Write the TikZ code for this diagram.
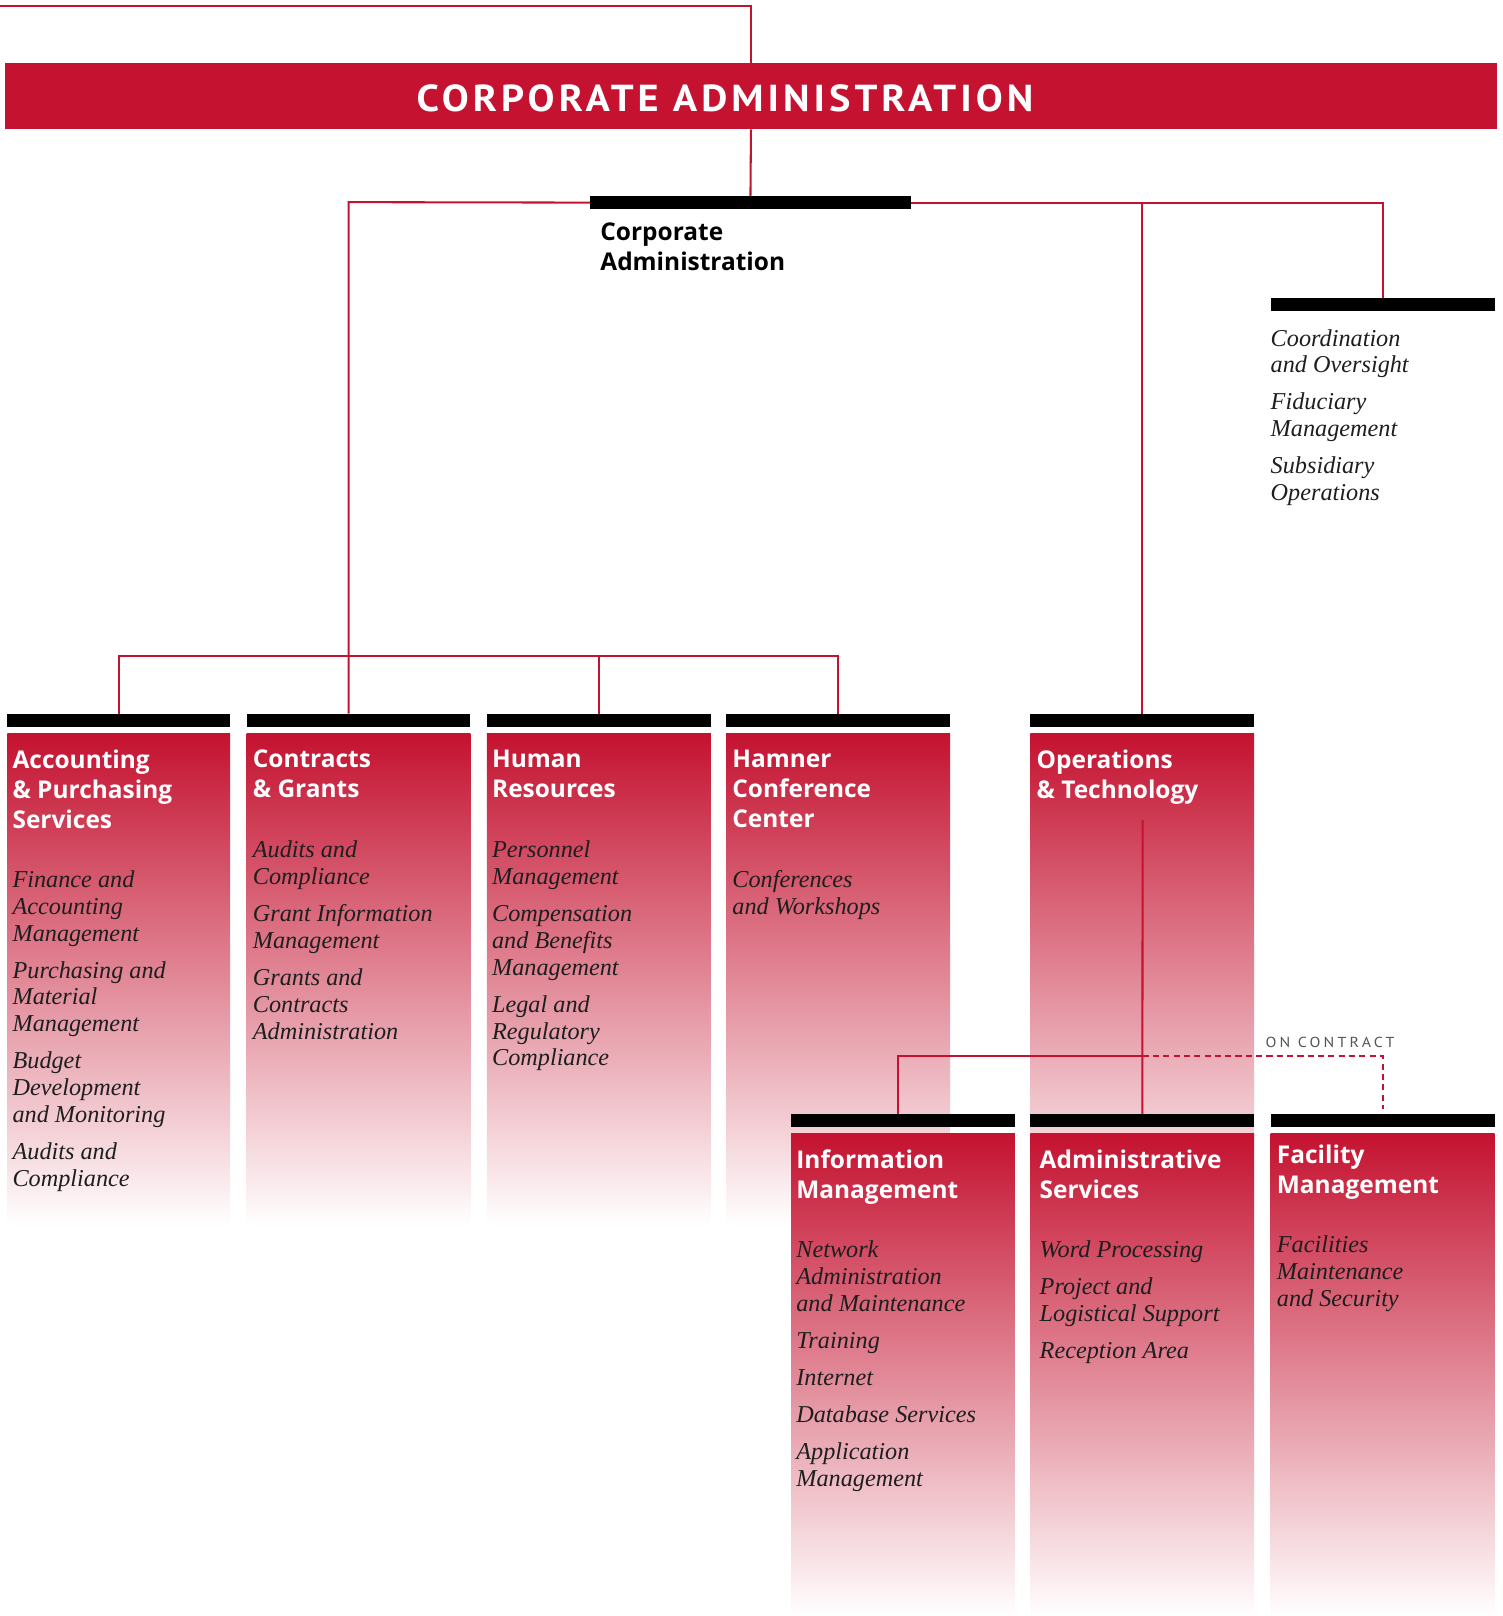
\documentclass[tikz,border=0pt]{standalone}
\usepackage{fontspec}
\usepackage{graphicx}
\setmainfont{Liberation Serif}
\newfontfamily\hdfont{Open Sans}
\newfontfamily\banfont[LetterSpace=10]{PT Sans}
\newfontfamily\smallcapsfont[LetterSpace=20]{PT Sans}
\newfontfamily\itemfont{Liberation Serif}
\definecolor{crim}{HTML}{C41230}
\definecolor{itemcol}{HTML}{1E1E1E}
\definecolor{contractgray}{HTML}{555555}
\begin{document}
\begin{tikzpicture}[x=1pt, y=-1pt,
  link/.style={draw=crim, line width=2pt},
  dashlink/.style={draw=crim, line width=2pt, dash pattern=on 6pt off 4pt},
  barnode/.style={fill=black, inner sep=0pt, minimum height=12.5pt, minimum width=217pt, anchor=north west},
  colbox/.style={top color=crim, bottom color=white, inner sep=0pt, minimum width=217pt, anchor=north west},
  headtext/.style={font=\hdfont\bfseries\fontsize{23.7}{29}\selectfont, text=white, align=left, anchor=north west, inner sep=0pt},
  itemtext/.style={font=\itemfont\itshape\fontsize{23.5}{26}\selectfont, text=itemcol, align=left, anchor=north west, inner sep=0pt}]
\useasboundingbox (0,0) rectangle (1457,1567);

% banner
\node[fill=crim, inner sep=0pt, minimum width=1446pt, minimum height=64pt, anchor=north west] (banner) at (5,61) {};
\node[inner sep=0pt, text=white] (bannerText) at (703,95) {\resizebox{598pt}{26pt}{\banfont\bfseries CORPORATE ADMINISTRATION}};

% corporate administration bar
\node[barnode, minimum width=311pt] (caBar) at (572,190) {};
\node[headtext, text=black] (caText) at (582,216) {Corporate\\Administration};

% coordination bar
\node[barnode] (coBar) at (1232,289) {};
\node[itemtext] (coItems) at (1232,319) {Coordination\\and Oversight\\[10pt]Fiduciary\\Management\\[10pt]Subsidiary\\Operations};

% first row columns
\node[barnode, minimum width=216pt] (apBar) at (7,692) {};
\node[barnode] (cgBar) at (239,692) {};
\node[barnode] (hrBar) at (472,692) {};
\node[barnode] (hcBar) at (704,692) {};
\node[barnode] (opBar) at (999,692) {};

\node[colbox, minimum width=216pt, minimum height=477pt] (apBox) at (7,711) {};
\node[colbox, minimum height=477pt] (cgBox) at (239,711) {};
\node[colbox, minimum height=477pt] (hrBox) at (472,711) {};
\node[colbox, minimum height=477pt] (hcBox) at (704,711) {};
\node[colbox, minimum height=477pt] (opBox) at (999,711) {};

\node[headtext] (apHead) at (12,727) {Accounting\\\&~Purchasing\\Services};
\node[headtext] (cgHead) at (245,727) {Contracts\\\&~Grants};
\node[headtext] (hrHead) at (477,727) {Human\\Resources};
\node[headtext] (hcHead) at (710,727) {Hamner\\Conference\\Center};
\node[headtext] (opHead) at (1005,727) {Operations\\\&~Technology};

\node[itemtext] (apItems) at (12,844) {Finance and\\Accounting\\Management\\[10pt]Purchasing and\\Material\\Management\\[10pt]Budget\\Development\\and Monitoring\\[10pt]Audits and\\Compliance};
\node[itemtext] (cgItems) at (245,815) {Audits and\\Compliance\\[10pt]Grant Information\\Management\\[10pt]Grants and\\Contracts\\Administration};
\node[itemtext] (hrItems) at (477,815) {Personnel\\Management\\[10pt]Compensation\\and Benefits\\Management\\[10pt]Legal and\\Regulatory\\Compliance};
\node[itemtext] (hcItems) at (710,844) {Conferences\\and Workshops};

% connectors upper
\coordinate (topL) at (0,6);
\draw[link] (topL) -| (banner.north);
\draw[link] (banner.south) -- (caBar.north);
\coordinate (jL) at (338,196);
\coordinate (jG) at (338,636);
\draw[link] (caBar.west) -- (jL) -- (jL |- cgBar.north);
\draw[link] (caBar.east) -| (coBar.north);
\draw[link] (caBar.east -| opBar.north) -- (opBar.north);
\draw[link] (apBar.north) |- (jG) -| (hcBar.north);
\draw[link] (hrBar.north) -- (hrBar.north |- jG);

% operations internal lines
\coordinate (opTop) at (1108,795);
\coordinate (jO) at (1108,1024);
\node[barnode] (imBar) at (767,1080) {};
\node[barnode] (asBar) at (999,1080) {};
\node[barnode] (fmBar) at (1232,1080) {};
\draw[link] (opTop) -- (asBar.north);
\draw[link] (jO) -| ([xshift=-5pt]imBar.north);
\draw[dashlink, shorten >=5pt] (jO) -| (fmBar.north);
\node[inner sep=0pt, anchor=south west, text=contractgray] (contract) at (1227,1016) {\resizebox{125pt}{10pt}{\smallcapsfont ON CONTRACT}};

% lower row
\node[colbox, minimum height=468pt] (imBox) at (767,1099) {};
\node[colbox, minimum height=468pt] (asBox) at (999,1099) {};
\node[colbox, minimum height=468pt] (fmBox) at (1232,1099) {};

\node[headtext] (imHead) at (772,1115) {Information\\Management};
\node[headtext] (asHead) at (1008,1115) {Administrative\\Services};
\node[headtext] (fmHead) at (1238,1110) {Facility\\Management};

\node[itemtext] (imItems) at (772,1203) {Network\\Administration\\and Maintenance\\[10pt]Training\\[10pt]Internet\\[10pt]Database Services\\[10pt]Application\\Management};
\node[itemtext] (asItems) at (1008,1203) {Word Processing\\[10pt]Project and\\Logistical Support\\[10pt]Reception Area};
\node[itemtext] (fmItems) at (1238,1198) {Facilities\\Maintenance\\and Security};
\end{tikzpicture}
\end{document}
